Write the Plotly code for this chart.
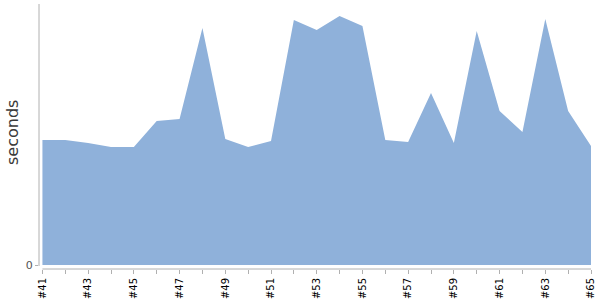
import plotly.graph_objects as go

builds = list(range(41, 66))
seconds = [12.5, 12.5, 12.2, 11.8, 11.8, 14.4, 14.6, 23.7, 12.6, 11.8,
           12.4, 24.5, 23.5, 24.9, 23.9, 12.5, 12.3, 17.2, 12.2, 23.4,
           15.4, 13.3, 24.6, 15.4, 11.9]
y_ticks = [0]
y_tick_text = ["0"]

AXIS = "#b0b0b0"
FONT = "DejaVu Sans"

fig = go.Figure()
fig.add_trace(go.Scatter(
    x=builds, y=seconds, mode="lines", fill="tozeroy",
    fillcolor="#8fb1da", line=dict(width=0, color="#8fb1da"),
    hoverinfo="skip", showlegend=False,
))

fig.update_layout(
    width=600, height=300,
    margin=dict(l=39, r=9, t=4, b=31),
    plot_bgcolor="white", paper_bgcolor="white",
    font=dict(family=FONT),
    xaxis=dict(
        range=[40.85, 65], tickmode="linear", tick0=41, dtick=1,
        ticklabelstep=2, tickprefix="#", tickangle=-90, automargin=False,
        ticks="outside", ticklen=4, tickcolor=AXIS, tickwidth=1,
        tickfont=dict(size=10, color="#000000", family=FONT),
        showgrid=False, zeroline=False, showline=False,
    ),
    yaxis=dict(
        range=[-0.4, 26.1], tickmode="array", tickvals=y_ticks, automargin=False,
        ticktext=y_tick_text, ticks="outside", ticklen=3,
        tickcolor=AXIS, tickfont=dict(size=11, color="#555555", family=FONT),
        showgrid=False, zeroline=False, showline=False,
    ),
    shapes=[
        dict(type="line", xref="x", yref="paper", x0=41, x1=65, y0=0, y1=0,
             line=dict(color=AXIS, width=1)),
        dict(type="line", xref="paper", yref="y", x0=0, x1=0, y0=-0.1, y1=26.1,
             line=dict(color=AXIS, width=1)),
    ],
    annotations=[
        dict(text="seconds", xref="paper", yref="paper",
             x=(12 - 39) / 552, y=(269 - 133) / 265, textangle=-90,
             showarrow=False, xanchor="center", yanchor="middle",
             font=dict(size=16, color="#3a3a3a", family=FONT)),
    ],
)

fig.write_html("out.html")
